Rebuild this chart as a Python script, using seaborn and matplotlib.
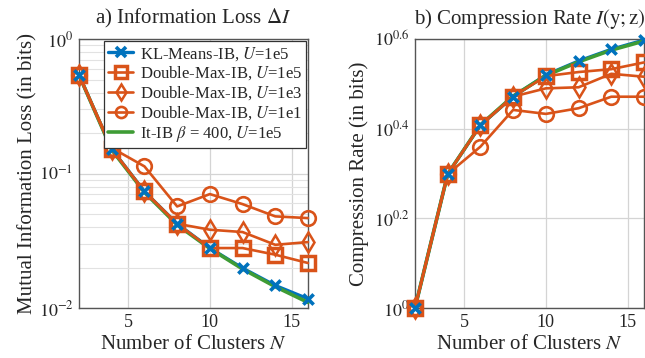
import matplotlib
matplotlib.use("Agg")
from matplotlib import pyplot as plt
from matplotlib.ticker import FixedLocator, NullLocator, LogLocator, NullFormatter
from matplotlib.lines import Line2D
import numpy as np
import pandas as pd
import seaborn as sns

# Data
clusters = [2, 4, 6, 8, 10, 12, 14, 16]

loss_kl_means = [0.54, 0.152, 0.0735, 0.0423, 0.0279, 0.0198, 0.0147, 0.0117]
loss_dm_1e5 = [0.54, 0.152, 0.0735, 0.0423, 0.0279, 0.0279, 0.0249, 0.0216]
loss_dm_1e3 = [0.54, 0.152, 0.0735, 0.0423, 0.0382, 0.0367, 0.0295, 0.0309]
loss_dm_1e1 = [0.54, 0.155, 0.113, 0.0569, 0.0703, 0.0592, 0.048, 0.0466]
loss_it_ib = [0.54, 0.150, 0.0725, 0.0415, 0.0277, 0.0195, 0.0144, 0.0110]

rate_kl_means = [1.0, 1.99, 2.557, 2.962, 3.31, 3.556, 3.776, 3.96]
rate_dm_1e5 = [1.0, 1.99, 2.557, 2.962, 3.29, 3.36, 3.41, 3.53]
rate_dm_1e3 = [1.0, 1.99, 2.557, 2.962, 3.09, 3.107, 3.33, 3.28]
rate_dm_1e1 = [1.0, 1.99, 2.29, 2.766, 2.71, 2.79, 2.96, 2.96]
rate_it_ib = [1.0, 1.99, 2.56, 2.97, 3.30, 3.54, 3.76, 3.94]

labels = ["KL-Means-IB, $U$=1e5", "Double-Max-IB, $U$=1e5", "Double-Max-IB, $U$=1e3",
          "Double-Max-IB, $U$=1e1", r"It-IB $\beta$ = 400, $U$=1e5"]

BLUE = "#0072BD"
ORANGE = "#D95319"
GREEN = "#3E9C35"

sns.set_style("whitegrid")
plt.rcParams["font.family"] = ["Liberation Serif", "DejaVu Serif"]
plt.rcParams["mathtext.fontset"] = "stix"

SQ = dict(marker="s", ms=10.5, mfc="none", mec=ORANGE, mew=2.5)
DI = dict(marker="d", ms=10, mfc="none", mec=ORANGE, mew=1.8)
CI = dict(marker="o", ms=10.5, mfc="none", mec=ORANGE, mew=1.9)
XM = dict(marker="x", ms=7.5, mec=BLUE, mew=2.6)


def draw_panel(ax, kl, dm5, dm3, dm1, itib):
    df = pd.DataFrame({"N": clusters, "kl": kl, "dm5": dm5, "dm3": dm3, "dm1": dm1, "itib": itib})
    # KL-Means line under the green It-IB line, its markers on top of everything
    sns.lineplot(data=df, x="N", y="kl", ax=ax, color=BLUE, lw=2.4, zorder=3)
    sns.lineplot(data=df, x="N", y="itib", ax=ax, color=GREEN, lw=2.6, zorder=4)
    sns.lineplot(data=df, x="N", y="dm1", ax=ax, color=ORANGE, lw=1.9, zorder=5, **CI)
    sns.lineplot(data=df, x="N", y="dm3", ax=ax, color=ORANGE, lw=1.9, zorder=5, **DI)
    sns.lineplot(data=df, x="N", y="dm5", ax=ax, color=ORANGE, lw=1.9, zorder=5, **SQ)
    sns.scatterplot(data=df, x="N", y="kl", ax=ax, color=BLUE, marker="x", s=55,
                    linewidth=2.6, zorder=6)
    ax.set_yscale("log")
    ax.set_xlim(2, 16)
    ax.set_xticks([5, 10, 15])
    ax.set_xlabel("Number of Clusters $N$", fontsize=15, labelpad=3)
    ax.tick_params(labelsize=13, direction="in", length=3, color="#666666", pad=4)
    for s in ax.spines.values():
        s.set_color("#555555")
        s.set_linewidth(1.0)
    ax.grid(True, which="major", color="#d4d4d4", lw=0.9)


fig = plt.figure(figsize=(6.45, 3.58), dpi=100)
ax1 = fig.add_axes([0.1225, 0.1397, 0.355, 0.7513])
ax2 = fig.add_axes([0.6434, 0.1397, 0.355, 0.7513])

# a) Information loss
draw_panel(ax1, loss_kl_means, loss_dm_1e5, loss_dm_1e3, loss_dm_1e1, loss_it_ib)
ax1.set_ylim(1e-2, 1)
ax1.yaxis.set_major_locator(FixedLocator([1e-2, 1e-1, 1]))
ax1.set_yticklabels(["$10^{-2}$", "$10^{-1}$", "$10^{0}$"])
ax1.yaxis.set_minor_locator(LogLocator(base=10, subs=np.arange(2, 10)))
ax1.yaxis.set_minor_formatter(NullFormatter())
ax1.grid(True, which="minor", axis="y", color="#e2e2e2", lw=0.8)
ax1.tick_params(which="minor", length=0)
ax1.set_ylabel("Mutual Information Loss (in bits)", fontsize=15, labelpad=1)
ax1.set_title(r"a) Information Loss $\Delta I$", fontsize=15, pad=11)

handles = [Line2D([], [], color=BLUE, lw=2.4, **XM),
           Line2D([], [], color=ORANGE, lw=1.9, **SQ),
           Line2D([], [], color=ORANGE, lw=1.9, **DI),
           Line2D([], [], color=ORANGE, lw=1.9, **CI),
           Line2D([], [], color=GREEN, lw=2.6)]
for h in handles[1:4]:
    h.set_markersize(8)
leg = ax1.legend(handles, labels, loc="upper right",
                 fontsize=12, frameon=True, fancybox=False, framealpha=1, edgecolor="#333333",
                 borderaxespad=0.1, handlelength=1.5, handletextpad=0.4, labelspacing=0.12,
                 borderpad=0.25)
leg.get_frame().set_linewidth(0.9)
leg.set_zorder(10)

# b) Compression rate
draw_panel(ax2, rate_kl_means, rate_dm_1e5, rate_dm_1e3, rate_dm_1e1, rate_it_ib)
ax2.set_ylim(1, 10 ** 0.6)
ax2.yaxis.set_major_locator(FixedLocator([1, 10 ** 0.2, 10 ** 0.4, 10 ** 0.6]))
ax2.set_yticklabels(["$10^{0}$", "$10^{0.2}$", "$10^{0.4}$", "$10^{0.6}$"])
ax2.yaxis.set_minor_locator(NullLocator())
ax2.set_ylabel("Compression Rate (in bits)", fontsize=15, labelpad=3)
ax2.set_title(r"b) Compression Rate $I(\mathrm{y};\mathrm{z})$", fontsize=15, pad=11)

for ax in (ax1, ax2):
    for line in ax.get_lines():
        line.set_clip_on(False)
    for coll in ax.collections:
        coll.set_clip_on(False)

fig.savefig("out.png", dpi=100)
